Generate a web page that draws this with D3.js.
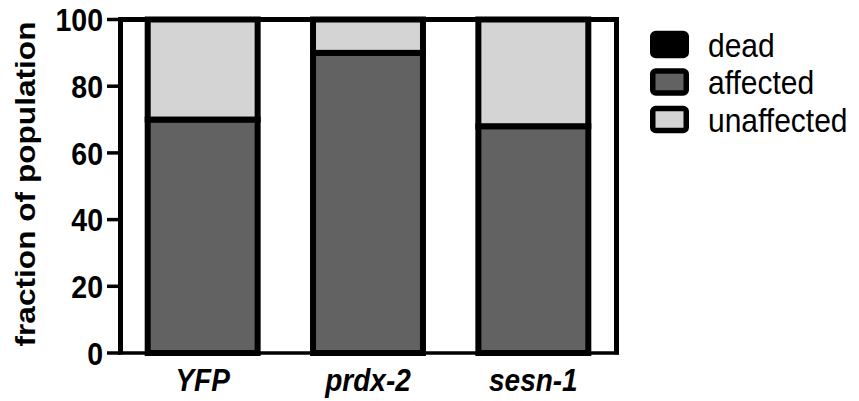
<!DOCTYPE html>
<html>
<head>
<meta charset="utf-8">
<script src="https://cdn.jsdelivr.net/npm/d3@7"></script>
<style>
  html, body { margin: 0; padding: 0; background: #fff; }
  svg { display: block; }
  text { font-family: "Liberation Sans", Arial, sans-serif; fill: #000; }
</style>
</head>
<body>
<svg id="chart" width="859" height="401"></svg>
<script>
// Stacked population outcome per construct (percent)
const categories = ["YFP", "prdx-2", "sesn-1"];
const dead = [0, 0, 0];
const affected = [70, 90, 68];
const unaffected = [30, 10, 32];
const yTicks = [0, 20, 40, 60, 80, 100];
const seriesNames = ["dead", "affected", "unaffected"];
const seriesColors = ["#000000", "#626262", "#d4d4d4"];
const yTitle = "fraction of population";

const svg = d3.select("#chart");
const stretch = 1.13; // glyphs are drawn taller than their advance width

const x = d3.scaleBand()
  .domain(categories)
  .range([120, 616])
  .paddingInner(0.335)
  .paddingOuter(0.1675);

const y = d3.scaleLinear().domain([0, 100]).range([352.5, 19]);

const rows = categories.map((c, i) => ({
  cat: c, dead: dead[i], affected: affected[i], unaffected: unaffected[i]
}));
const stack = d3.stack().keys(seriesNames);
const layers = stack(rows);
const color = d3.scaleOrdinal().domain(seriesNames).range(seriesColors);

// Stacked bars
const barG = svg.append("g");
layers.forEach(layer => {
  barG.selectAll(null)
    .data(layer.filter(d => d[1] > d[0]))
    .join("rect")
    .attr("x", d => x(d.data.cat))
    .attr("width", x.bandwidth())
    .attr("y", d => y(d[1]) + 0.5)
    .attr("height", d => y(d[0]) - y(d[1]))
    .attr("fill", color(layer.key))
    .attr("stroke", "#000")
    .attr("stroke-width", 6);
});

// Frame: top and right edges
svg.append("line")
  .attr("x1", 118).attr("x2", 619)
  .attr("y1", y(100) + 0.5).attr("y2", y(100) + 0.5)
  .attr("stroke", "#000").attr("stroke-width", 5);
svg.append("line")
  .attr("x1", 616.5).attr("x2", 616.5)
  .attr("y1", y(100) - 2).attr("y2", y(0) + 2)
  .attr("stroke", "#000").attr("stroke-width", 5);

// Bottom axis with category labels
const xAxisG = svg.append("g")
  .attr("transform", `translate(0,${y(0)})`)
  .call(d3.axisBottom(x).tickSize(0).tickSizeOuter(0));
xAxisG.select(".domain")
  .attr("stroke", "#000").attr("stroke-width", 3.3)
  .attr("d", `M118,0.5H619`);
xAxisG.selectAll(".tick text")
  .attr("y", 0).attr("dy", null)
  .attr("transform", `translate(0,38.5) scale(1,${stretch})`)
  .style("font-size", "28px")
  .style("font-weight", "bold")
  .style("font-style", "italic")
  .style("font-family", "'Liberation Sans', Arial, sans-serif");

// Left axis
const yAxisG = svg.append("g")
  .attr("transform", "translate(120,0)")
  .call(d3.axisLeft(y).tickValues(yTicks).tickSize(13).tickPadding(4).tickSizeOuter(0));
yAxisG.select(".domain")
  .attr("stroke", "#000").attr("stroke-width", 5)
  .attr("d", `M0.5,${y(100) - 2}V${y(0) + 2}`);
yAxisG.selectAll(".tick line")
  .attr("stroke", "#000").attr("stroke-width", 3.5);
yAxisG.selectAll(".tick text")
  .attr("dy", "0.36em")
  .attr("transform", `scale(1,${stretch})`)
  .style("font-size", "28.5px")
  .style("font-weight", "bold")
  .style("font-family", "'Liberation Sans', Arial, sans-serif");

// Y axis title
svg.append("text")
  .attr("transform", `translate(35,184) rotate(-90) scale(${stretch},1)`)
  .attr("text-anchor", "middle")
  .style("font-size", "28px")
  .style("font-weight", "bold")
  .text(yTitle);

// Legend
const legend = svg.append("g").attr("transform", "translate(652.75,33.5)");
const legendStep = 37.5;
const items = legend.selectAll("g")
  .data(seriesNames)
  .join("g")
  .attr("transform", (d, i) => `translate(0,${i * legendStep})`);
items.append("rect")
  .attr("width", 33.5).attr("height", 22)
  .attr("rx", 3).attr("ry", 3)
  .attr("fill", d => color(d))
  .attr("stroke", "#000").attr("stroke-width", 5.5);
items.append("text")
  .attr("transform", `translate(55.25,23.2) scale(1,${stretch})`)
  .style("font-size", "30px")
  .text(d => d);
</script>
</body>
</html>
